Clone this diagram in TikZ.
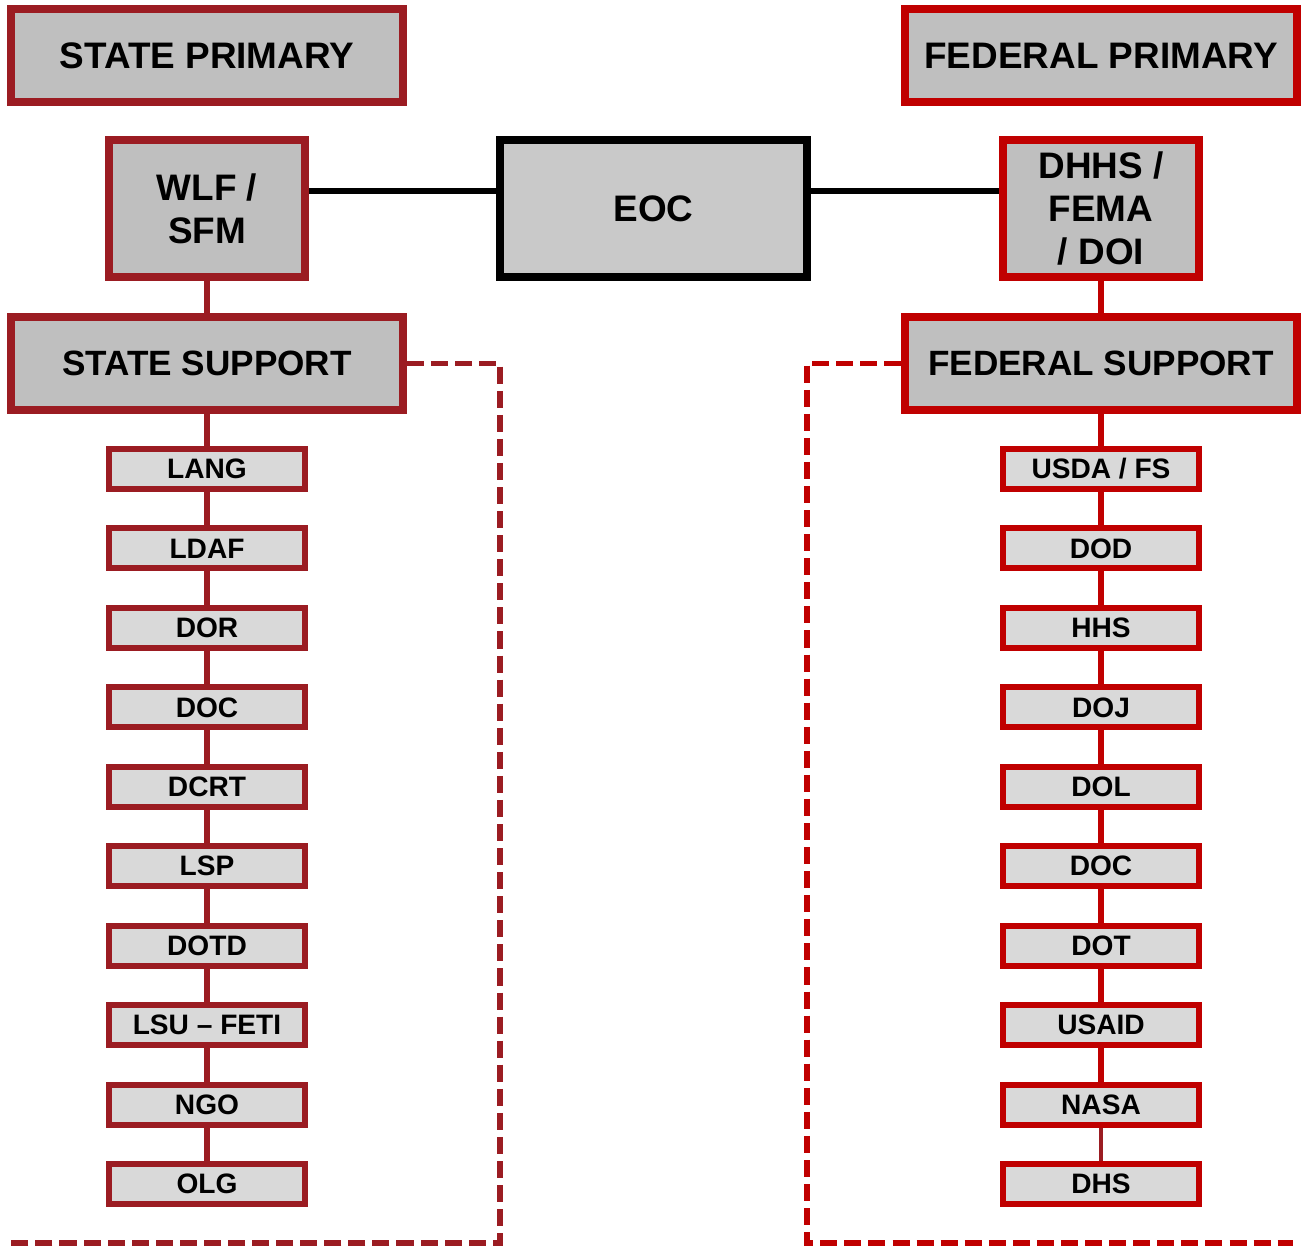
\documentclass[tikz,border=0pt]{standalone}
\usepackage{fontspec}
\setmainfont{Liberation Sans}
\definecolor{stred}{HTML}{9B1C22}
\definecolor{fedred}{HTML}{C00000}
\definecolor{boxgray}{HTML}{BFBFBF}
\definecolor{eocgray}{HTML}{C9C9C9}
\definecolor{lightgray}{HTML}{D9D9D9}
\newcommand\rowgap{79.44}

\begin{document}
\begin{tikzpicture}[x=0.02cm, y=-0.02cm,
    bigbox/.style = {rectangle, line width=4.5pt, fill=boxgray, minimum width=7.84cm, minimum height=1.86cm, inner sep=0pt, font=\fontsize{21}{24.5}\selectfont\bfseries},
    headbox/.style = {rectangle, line width=4.5pt, fill=boxgray, minimum width=3.92cm, minimum height=2.74cm, inner sep=0pt, align=center, font=\fontsize{21}{24.3}\selectfont\bfseries},
    smallbox/.style = {rectangle, line width=3.4pt, fill=lightgray, minimum width=3.92cm, minimum height=0.8cm, inner sep=0pt, font=\fontsize{16}{18}\selectfont\bfseries},
    state/.style = {draw=stred},
    fed/.style = {draw=fedred},
    link/.style = {line width=3.6pt},
    dashlink/.style = {line width=3.2pt, dash pattern=on 9.7pt off 4pt}]
    \useasboundingbox (0,0) rectangle (1301,1247);

    %State side
    \node at (207,55.5) [bigbox, state] (sprim) {STATE PRIMARY};
    \node at (207,208.5) [headbox, state] (wlf) {WLF /\\SFM};
    \node at (207,363.5) [bigbox, state] (ssup) {\fontsize{20}{24}\selectfont STATE SUPPORT};
    \draw[link, stred] (wlf.south) -- (ssup.north);

    \foreach \lbl [count=\i] in {LANG, LDAF, DOR, DOC, DCRT, LSP, DOTD, LSU -- FETI, NGO, OLG}
        \node at (207, {469+\rowgap*(\i-1)}) [smallbox, state] (s\i) {\lbl};
    \draw[link, stred] (ssup.south) -- (s1.north);
    \foreach \i [evaluate=\i as \j using int(\i-1)] in {2,...,10}
        \draw[link, stred] (s\j.south) -- (s\i.north);

    \coordinate (sdl1) at (500,1243);
    \coordinate (sdl2) at (9,1243);
    \draw[dashlink, stred] (ssup.east) -| (sdl1) -- (sdl2);

    %Federal side
    \node at (1101,55.5) [bigbox, fed] (fprim) {FEDERAL PRIMARY};
    \node at (1101,208.5) [headbox, fed] (dhhs) {DHHS /\\FEMA\\/ DOI};
    \node at (1101,363.5) [bigbox, fed] (fsup) {\fontsize{20}{24}\selectfont FEDERAL SUPPORT};
    \draw[link, fedred] (dhhs.south) -- (fsup.north);

    \foreach \lbl [count=\i] in {USDA / FS, DOD, HHS, DOJ, DOL, DOC, DOT, USAID, NASA, DHS}
        \node at (1101, {469+\rowgap*(\i-1)}) [smallbox, fed] (f\i) {\lbl};
    \draw[link, fedred] (fsup.south) -- (f1.north);
    \foreach \i [evaluate=\i as \j using int(\i-1)] in {2,...,9}
        \draw[link, fedred] (f\j.south) -- (f\i.north);
    \draw[line width=2.8pt, stred] (f9.south) -- (f10.north);

    \coordinate (fdl1) at (807,1243);
    \coordinate (fdl2) at (1293,1243);
    \draw[dashlink, fedred] (fsup.west) -| (fdl1) -- (fdl2);

    %EOC in the middle
    \node at (653.5,208.5) [headbox, draw=black, fill=eocgray, minimum width=6.14cm] (eoc) {EOC};
    \coordinate (lnk) at (0,191);
    \draw[link] (wlf.east |- lnk) -- (eoc.west |- lnk);
    \draw[link] (eoc.east |- lnk) -- (dhhs.west |- lnk);
\end{tikzpicture}
\end{document}
